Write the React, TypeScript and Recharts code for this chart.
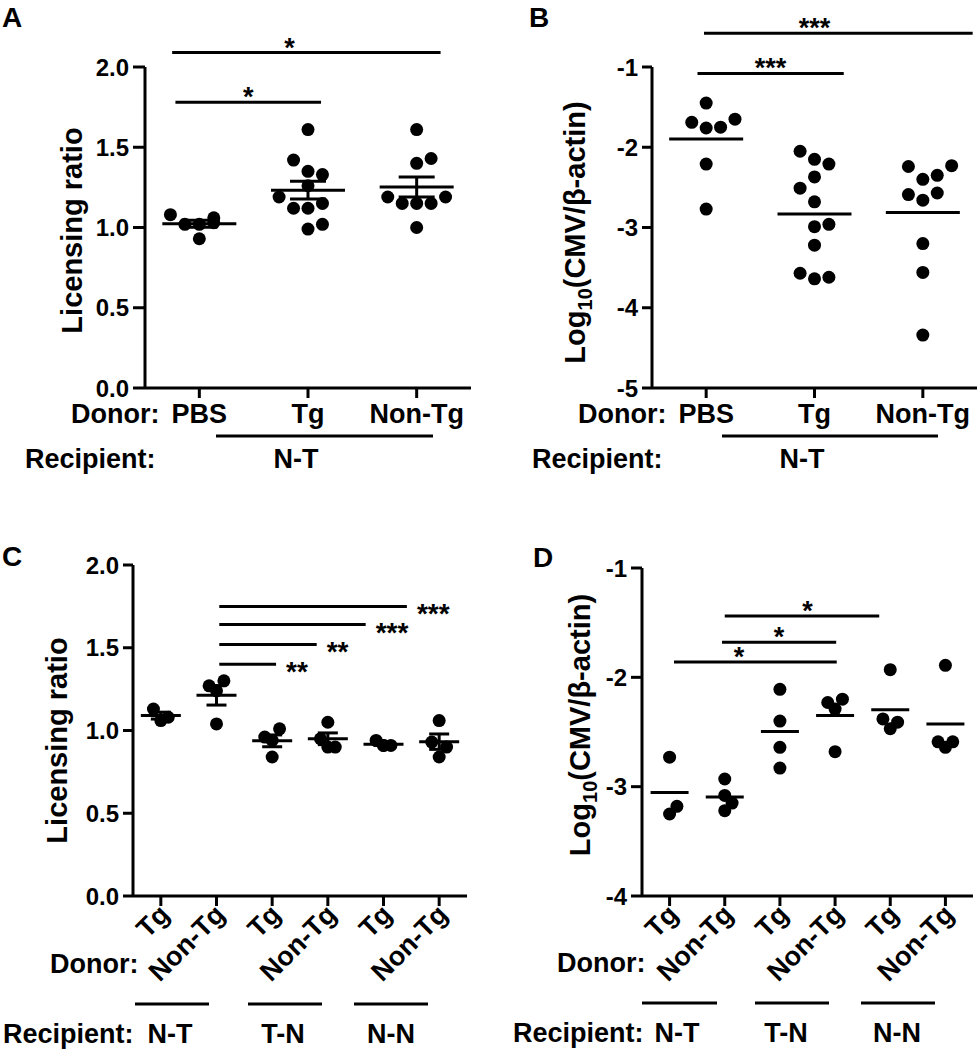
import React from "react";
import { ErrorBar, ReferenceLine, Scatter, ScatterChart, XAxis, YAxis } from "recharts";

const FONT = 'Arial, "Liberation Sans", Helvetica, sans-serif';
const JIT = 0.133; // horizontal spread of one dot column, in category units

// A — licensing ratio, recipients N-T
const donorsAB = ["PBS", "Tg", "Non-Tg"];
const licA = [
  [1.08, 1.02, 1.02, 1.06, 1.03, 0.93],
  [1.61, 1.42, 1.35, 1.33, 1.26, 1.19, 1.12, 1.12, 1.15, 0.99, 1.02],
  [1.61, 1.4, 1.43, 1.19, 1.15, 1.15, 1.15, 1.19, 1.0],
];
const colsA = [
  [-2, -1, 0, 1, 1, 0],
  [0, -1, 0, 1, 0, -2, -1, 0, 1, 0, 1],
  [0, 0, 1, -2, -1, 0, 1, 2, 0],
];

// B — log10(CMV/β-actin), recipients N-T
const cmvB = [
  [-1.45, -1.69, -1.76, -1.75, -1.65, -2.21, -2.77],
  [-2.05, -2.15, -2.21, -2.37, -2.51, -2.68, -2.99, -2.96, -3.22, -3.57, -3.64, -3.62],
  [-2.24, -2.4, -2.35, -2.23, -2.59, -2.66, -2.57, -3.2, -3.56, -4.34],
];
const colsB = [
  [0, -1, 0, 1, 2, 0, 0],
  [-1, 0, 1, 0, -1, 0, 0, 1, 0, -1, 0, 1],
  [-1, 0, 1, 2, -1, 0, 1, 0, 0, 0],
];

// C / D — donor x recipient combinations
const donorsCD = ["Tg", "Non-Tg", "Tg", "Non-Tg", "Tg", "Non-Tg"];
const recipientsCD = ["N-T", "T-N", "N-N"];
const licC = [
  [1.13, 1.06, 1.08],
  [1.27, 1.3, 1.24, 1.04],
  [0.96, 1.01, 0.94, 0.84],
  [1.05, 0.95, 0.9, 0.9],
  [0.94, 0.91, 0.91, 0.91],
  [1.06, 0.93, 0.9, 0.84],
];
const colsC = [
  [-1, 0, 1],
  [-1, 1, 0, 0],
  [-1, 1, 0, 0],
  [0, -1, 0, 1],
  [-1, 0, 1, 0],
  [0, -1, 1, 0],
];
const cmvD = [
  [-2.73, -3.18, -3.25],
  [-2.93, -3.08, -3.15, -3.22],
  [-2.11, -2.4, -2.64, -2.83],
  [-2.23, -2.2, -2.29, -2.68],
  [-1.93, -2.38, -2.41, -2.47],
  [-1.89, -2.59, -2.59, -2.64],
];
const colsD = [
  [0, 1, 0],
  [0, 0, 1, 0],
  [0, 0, 0, 0],
  [-1, 1, 0, 0],
  [0, -1, 1, 0],
  [0, -1, 1, 0],
];

// significance brackets (x in category units, y in axis units)
interface Sig {
  x1: number;
  x2: number;
  y: number;
  text: string;
  tx?: number;
}
const sigA: Sig[] = [
  { x1: -0.25, x2: 2.22, y: 2.09, text: "*", tx: 0.83 },
  { x1: -0.22, x2: 1.12, y: 1.78, text: "*" },
];
const sigB: Sig[] = [
  { x1: -0.02, x2: 2.46, y: -0.58, text: "***", tx: 1.0 },
  { x1: -0.08, x2: 1.27, y: -1.08, text: "***" },
];
const sigC: Sig[] = [
  { x1: 1.05, x2: 4.42, y: 1.75, text: "***" },
  { x1: 1.05, x2: 3.68, y: 1.64, text: "***" },
  { x1: 1.05, x2: 2.8, y: 1.52, text: "**" },
  { x1: 1.05, x2: 2.07, y: 1.4, text: "**" },
];
const sigD: Sig[] = [
  { x1: 1.0, x2: 3.8, y: -1.44, text: "*", tx: 2.5 },
  { x1: 0.95, x2: 3.02, y: -1.68, text: "*" },
  { x1: 0.08, x2: 3.03, y: -1.86, text: "*", tx: 1.26 },
];

const mean = (a: number[]) => a.reduce((s, v) => s + v, 0) / a.length;
const sem = (a: number[]) => {
  const m = mean(a);
  const sd = Math.sqrt(a.reduce((s, v) => s + (v - m) ** 2, 0) / (a.length - 1));
  return sd / Math.sqrt(a.length);
};

const txt = { fontFamily: FONT, fontWeight: "bold" as const, fill: "#000" };

interface PanelProps {
  left: number;
  top: number;
  width: number;
  height: number;
  margin: { top: number; right: number; bottom: number; left: number };
  yWidth: number;
  xHeight: number;
  yDomain: [number, number];
  yTicks: number[];
  yFmt: (v: number) => string;
  yTickSize: number;
  groups: number[][];
  cols: number[][];
  labels: string[];
  angled?: boolean;
  meanHalf: number;
  capHalf?: number;
  sigs: Sig[];
  starSide: "top" | "right";
  yLabel: React.ReactNode;
  labelGap: number;
  labelShift: number;
}

function Panel(p: PanelProps) {
  const points = p.groups.flatMap((vals, g) =>
    vals.map((v, k) => ({ x: g + p.cols[g][k] * JIT, y: v })),
  );
  const means = p.groups.map((vals, g) => ({ x: g, y: mean(vals), err: sem(vals) }));
  const n = p.groups.length;

  const starLabel = (s: Sig) => (lp: any) => {
    const vb = lp.viewBox;
    if (!vb) return null;
    if (p.starSide === "right") {
      return (
        <text x={vb.x + vb.width + 10} y={vb.y + 17} fontSize={28} {...txt}>
          {s.text}
        </text>
      );
    }
    const frac = s.tx === undefined ? 0.5 : (s.tx - s.x1) / (s.x2 - s.x1);
    return (
      <text x={vb.x + vb.width * frac} y={vb.y + 4} textAnchor="middle" fontSize={27} {...txt}>
        {s.text}
      </text>
    );
  };

  const xTick = (tp: any) => {
    const label = p.labels[tp.payload.value];
    if (p.angled) {
      const px = tp.x + 10;
      const py = tp.y + 10;
      return (
        <text x={px} y={py} transform={`rotate(-45 ${px} ${py})`} textAnchor="end" fontSize={27} {...txt}>
          {label}
        </text>
      );
    }
    return (
      <text x={tp.x} y={tp.y + 25} textAnchor="middle" fontSize={27} {...txt}>
        {label}
      </text>
    );
  };

  const yTitle = (lp: any) => {
    const vb = lp.viewBox;
    if (!vb) return null;
    const bx = vb.x + vb.width - p.labelGap;
    const cy = vb.y + vb.height / 2 + p.labelShift;
    return (
      <text x={bx} y={cy} transform={`rotate(-90 ${bx} ${cy})`} textAnchor="middle" fontSize={29} {...txt}>
        {p.yLabel}
      </text>
    );
  };

  return (
    <div style={{ position: "absolute", left: p.left, top: p.top }}>
      <ScatterChart width={p.width} height={p.height} margin={p.margin}>
        <XAxis
          type="number"
          dataKey="x"
          domain={[-0.5, n - 0.5]}
          ticks={p.labels.map((_, i) => i)}
          allowDataOverflow
          height={p.xHeight}
          tickSize={10}
          tickMargin={0}
          tick={xTick}
          axisLine={{ stroke: "#000", strokeWidth: 3 }}
          tickLine={{ stroke: "#000", strokeWidth: 3 }}
        />
        <YAxis
          type="number"
          dataKey="y"
          domain={p.yDomain}
          ticks={p.yTicks}
          allowDataOverflow
          width={p.yWidth}
          tickSize={p.yTickSize}
          tickMargin={4}
          tickFormatter={p.yFmt}
          tick={{ fontSize: 24, fontFamily: FONT, fontWeight: "bold", fill: "#000" }}
          axisLine={{ stroke: "#000", strokeWidth: 3 }}
          tickLine={{ stroke: "#000", strokeWidth: 3 }}
          label={yTitle}
        />
        <Scatter
          data={points}
          isAnimationActive={false}
          shape={(sp: any) => <circle cx={sp.cx} cy={sp.cy} r={6.5} fill="#000" />}
        />
        <Scatter
          data={means}
          isAnimationActive={false}
          shape={(sp: any) => (
            <line
              x1={sp.cx - p.meanHalf}
              x2={sp.cx + p.meanHalf}
              y1={sp.cy}
              y2={sp.cy}
              stroke="#000"
              strokeWidth={3}
            />
          )}
        >
          {p.capHalf ? (
            <ErrorBar
              dataKey="err"
              direction="y"
              width={p.capHalf}
              stroke="#000"
              strokeWidth={3}
              isAnimationActive={false}
            />
          ) : null}
        </Scatter>
        {p.sigs.map((s, i) => (
          <ReferenceLine
            key={i}
            segment={[
              { x: s.x1, y: s.y },
              { x: s.x2, y: s.y },
            ]}
            ifOverflow="visible"
            stroke="#000"
            strokeWidth={3}
            label={starLabel(s)}
          />
        ))}
      </ScatterChart>
    </div>
  );
}

const logLabel = (
  <>
    Log
    <tspan fontSize={20} dy={7}>
      10
    </tspan>
    <tspan dy={-7}>(CMV/β-actin)</tspan>
  </>
);

export default function App() {
  return (
    <div style={{ position: "absolute", left: 0, top: 0, width: 977, height: 1050, background: "#fff" }}>
      <Panel
        left={0}
        top={0}
        width={480}
        height={480}
        margin={{ top: 67, right: 9, bottom: 62, left: 0 }}
        yWidth={145}
        xHeight={30}
        yDomain={[0, 2]}
        yTicks={[0, 0.5, 1, 1.5, 2]}
        yFmt={(v) => v.toFixed(1)}
        yTickSize={12}
        groups={licA}
        cols={colsA}
        labels={donorsAB}
        meanHalf={37}
        capHalf={18}
        sigs={sigA}
        starSide="top"
        yLabel="Licensing ratio"
        labelGap={63}
        labelShift={3}
      />
      <Panel
        left={480}
        top={0}
        width={497}
        height={480}
        margin={{ top: 67, right: 0, bottom: 62, left: 0 }}
        yWidth={172}
        xHeight={30}
        yDomain={[-5, -1]}
        yTicks={[-5, -4, -3, -2, -1]}
        yFmt={(v) => String(v)}
        yTickSize={10}
        groups={cmvB}
        cols={colsB}
        labels={donorsAB}
        meanHalf={37}
        sigs={sigB}
        starSide="top"
        yLabel={logLabel}
        labelGap={67}
        labelShift={5}
      />
      <Panel
        left={0}
        top={480}
        width={480}
        height={570}
        margin={{ top: 85, right: 13, bottom: 94, left: 0 }}
        yWidth={133}
        xHeight={60}
        yDomain={[0, 2]}
        yTicks={[0, 0.5, 1, 1.5, 2]}
        yFmt={(v) => v.toFixed(1)}
        yTickSize={10}
        groups={licC}
        cols={colsC}
        labels={donorsCD}
        angled
        meanHalf={20}
        capHalf={10}
        sigs={sigC}
        starSide="right"
        yLabel="Licensing ratio"
        labelGap={66}
        labelShift={10}
      />
      <Panel
        left={480}
        top={480}
        width={497}
        height={570}
        margin={{ top: 88, right: 4, bottom: 94, left: 0 }}
        yWidth={162}
        xHeight={60}
        yDomain={[-4, -1]}
        yTicks={[-4, -3, -2, -1]}
        yFmt={(v) => String(v)}
        yTickSize={11}
        groups={cmvD}
        cols={colsD}
        labels={donorsCD}
        angled
        meanHalf={19}
        sigs={sigD}
        starSide="top"
        yLabel={logLabel}
        labelGap={52}
        labelShift={-7}
      />
      <svg
        width={977}
        height={1050}
        style={{ position: "absolute", left: 0, top: 0, pointerEvents: "none" }}
      >
        <g {...txt} fontSize={28}>
          <text x={2} y={27}>A</text>
          <text x={529} y={27}>B</text>
          <text x={2} y={566}>C</text>
          <text x={533} y={567}>D</text>
        </g>
        <g {...txt} fontSize={27}>
          <text x={71} y={423}>Donor:</text>
          <text x={578} y={423}>Donor:</text>
          <text x={25} y={468}>Recipient:</text>
          <text x={532} y={468}>Recipient:</text>
          <text x={296} y={468} textAnchor="middle">{recipientsCD[0]}</text>
          <text x={802} y={468} textAnchor="middle">{recipientsCD[0]}</text>
          <text x={50} y={973}>Donor:</text>
          <text x={557} y={972}>Donor:</text>
          <text x={3} y={1043}>Recipient:</text>
          <text x={513} y={1042}>Recipient:</text>
          {[170, 283, 391].map((cx, i) => (
            <text key={"c" + i} x={cx} y={1043} textAnchor="middle">
              {recipientsCD[i]}
            </text>
          ))}
          {[677, 786, 897].map((cx, i) => (
            <text key={"d" + i} x={cx} y={1042} textAnchor="middle">
              {recipientsCD[i]}
            </text>
          ))}
        </g>
        <g stroke="#000" strokeWidth={3}>
          <line x1={216} x2={433} y1={436} y2={436} />
          <line x1={722} x2={938} y1={436} y2={436} />
          <line x1={135} x2={209} y1={1004} y2={1004} />
          <line x1={248} x2={322} y1={1004} y2={1004} />
          <line x1={354} x2={428} y1={1004} y2={1004} />
          <line x1={642} x2={717} y1={1003} y2={1003} />
          <line x1={755} x2={829} y1={1003} y2={1003} />
          <line x1={861} x2={935} y1={1003} y2={1003} />
        </g>
      </svg>
    </div>
  );
}
